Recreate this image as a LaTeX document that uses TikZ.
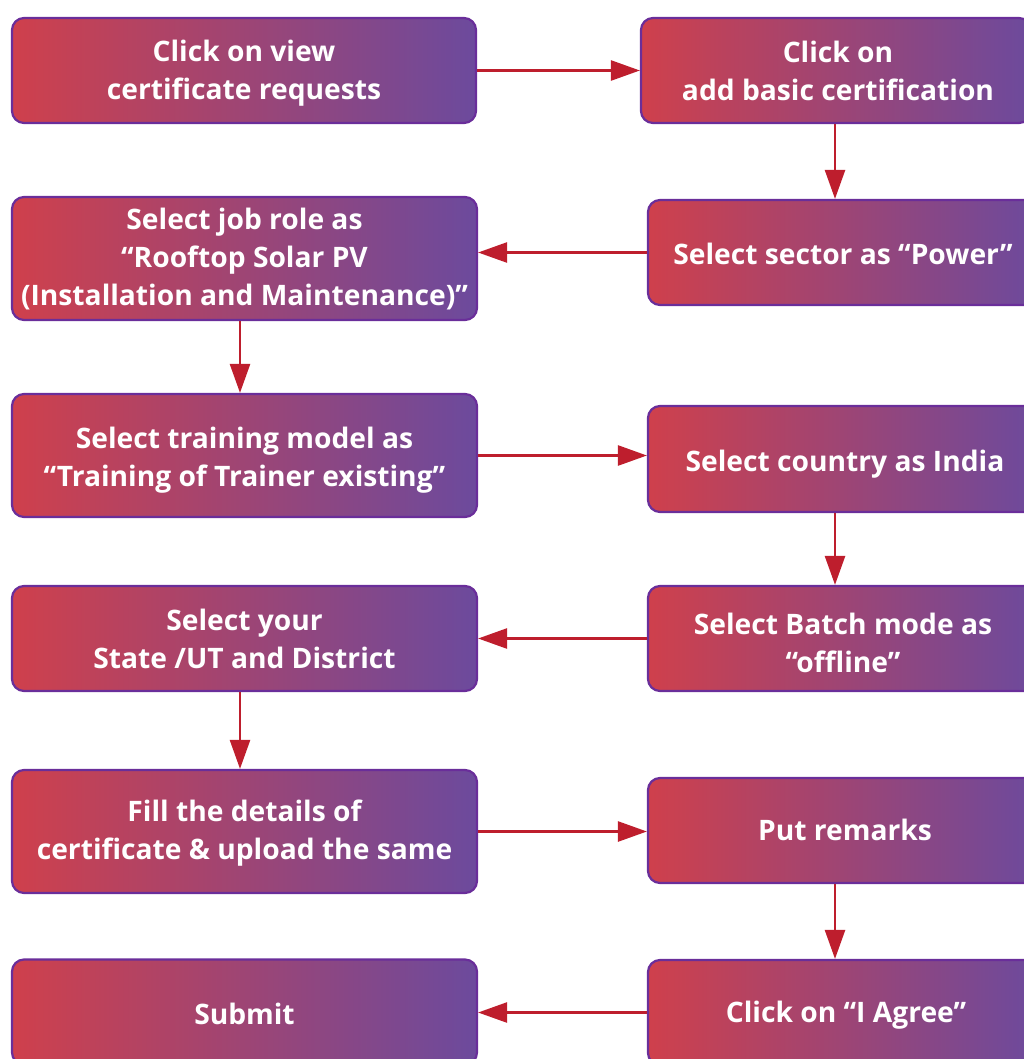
\documentclass[tikz,border=0pt]{standalone}
\usepackage{fontspec}
\setmainfont{Open Sans}
\usetikzlibrary{arrows.meta}
\definecolor{boxL}{HTML}{CF404C}
\definecolor{boxR}{HTML}{6C4A9D}
\definecolor{boxB}{HTML}{6A2E9A}
\definecolor{arr}{HTML}{BE1E2D}
\tikzset{
  stepbox/.style={draw=boxB, line width=2.2pt, rounded corners=12pt,
    left color=boxL, right color=boxR, inner sep=0pt},
  steptext/.style={text=white, align=center, inner sep=0pt,
    font=\fontsize{28.2}{38}\selectfont\bfseries},
  flow/.style={draw=arr, line width=2.6pt, -{Triangle[length=29pt,width=20pt]}}
}
\begin{document}
\begin{tikzpicture}[x=1pt,y=-1pt]
\useasboundingbox (0,0) rectangle (1024,1059);
% left column boxes
\node[stepbox, minimum width=464pt, minimum height=105pt] (A) at (244,70.5) {};
\node[stepbox, minimum width=465pt, minimum height=123pt] (D) at (244.5,258.5) {};
\node[stepbox, minimum width=465pt, minimum height=123pt] (E) at (244.5,455.5) {};
\node[stepbox, minimum width=465pt, minimum height=105pt] (H) at (244.5,638.5) {};
\node[stepbox, minimum width=465pt, minimum height=123pt] (I) at (244.5,831.5) {};
\node[stepbox, minimum width=465pt, minimum height=105pt] (L) at (244.5,1012) {};
% right column boxes
\node[stepbox, minimum width=390pt, minimum height=105pt] (B) at (836,70.5) {};
\node[stepbox, minimum width=390pt, minimum height=105pt] (C) at (843,252.5) {};
\node[stepbox, minimum width=390pt, minimum height=106pt] (F) at (843,459) {};
\node[stepbox, minimum width=390pt, minimum height=105pt] (G) at (843,638.5) {};
\node[stepbox, minimum width=390pt, minimum height=105pt] (J) at (843,830.5) {};
\node[stepbox, minimum width=390pt, minimum height=105pt] (K) at (843,1012.5) {};
% texts
\node[steptext] (At) at ([yshift=-2.5pt]A.center) {Click on view\\certificate requests};
\node[steptext] (Dt) at ([yshift=-0.5pt]D.center) {Select job role as\\“Rooftop Solar PV\\(Installation and Maintenance)”};
\node[steptext] (Et) at ([yshift=-4.5pt]E.center) {Select training model as\\“Training of Trainer existing”};
\node[steptext] (Ht) at ([yshift=0pt]H.center) {Select your\\State /UT and District};
\node[steptext] (It) at ([yshift=-1.5pt]I.center) {Fill the details of\\certificate \& upload the same};
\node[steptext] (Lt) at ([yshift=-2pt]L.center) {Submit};
\node[steptext] (Bt) at ([xshift=2pt]B.center) {Click on\\add basic certification};
\node[steptext] (Ct) at ([yshift=-1pt]C.center) {Select sector as “Power”};
\node[steptext] (Ft) at ([xshift=2pt,yshift=-5pt]F.center) {Select country as India};
\node[steptext] (Gt) at ([yshift=-4pt]G.center) {Select Batch mode as\\“offline”};
\node[steptext] (Jt) at ([xshift=2pt,yshift=1pt]J.center) {Put remarks};
\node[steptext] (Kt) at ([xshift=3pt,yshift=-3pt]K.center) {Click on “I Agree”};
\coordinate (lc) at (240,0);
\coordinate (rc) at (835,0);
% connectors
\draw[flow] (A.east) -- (A.east -| B.west);
\draw[flow] (B.south -| rc) -- (C.north -| rc);
\draw[flow] (C.west) -- (C.west -| D.east);
\draw[flow] (D.south -| lc) -- (E.north -| lc);
\draw[flow] (E.east) -- (E.east -| F.west);
\draw[flow] (F.south -| rc) -- (G.north -| rc);
\draw[flow] (G.west) -- (G.west -| H.east);
\draw[flow] (H.south -| lc) -- (I.north -| lc);
\draw[flow] (I.east) -- (I.east -| J.west);
\draw[flow] (J.south -| rc) -- (K.north -| rc);
\draw[flow] (K.west) -- (K.west -| L.east);
\end{tikzpicture}
\end{document}
